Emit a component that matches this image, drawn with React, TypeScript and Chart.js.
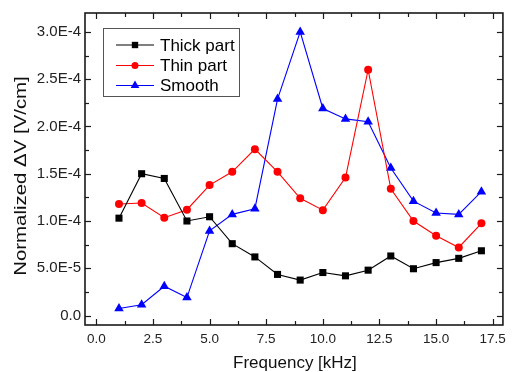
import { useEffect, useRef } from "react";
import { Chart, registerables } from "chart.js";
import { drawPoint } from "chart.js/helpers";

Chart.register(...registerables);

const frequency = [1, 2, 3, 4, 5, 6, 7, 8, 9, 10, 11, 12, 13, 14, 15, 16, 17];
const thickPart = [1.03e-4, 1.5e-4, 1.45e-4, 1.0e-4, 1.045e-4, 7.6e-5, 6.2e-5, 4.35e-5, 3.75e-5, 4.55e-5, 4.2e-5, 4.8e-5, 6.3e-5, 4.95e-5, 5.6e-5, 6.05e-5, 6.85e-5];
const thinPart = [1.18e-4, 1.19e-4, 1.035e-4, 1.12e-4, 1.38e-4, 1.52e-4, 1.76e-4, 1.52e-4, 1.24e-4, 1.115e-4, 1.46e-4, 2.6e-4, 1.34e-4, 1.0e-4, 8.45e-5, 7.2e-5, 9.75e-5];
const smooth = [7.5e-6, 1.15e-5, 3.1e-5, 1.9e-5, 8.95e-5, 1.07e-4, 1.13e-4, 2.29e-4, 3.0e-4, 2.19e-4, 2.08e-4, 2.05e-4, 1.56e-4, 1.21e-4, 1.085e-4, 1.07e-4, 1.31e-4];

const seriesNames = ["Thick part", "Thin part", "Smooth"];
const seriesColors = ["#000000", "#ff0000", "#0000ff"];
const seriesMarkers = ["rect", "circle", "triangle"];
const seriesRadius = [5, 4, 5.5];

const xTicks = [0, 2.5, 5, 7.5, 10, 12.5, 15, 17.5];
const xTickLabels = ["0.0", "2.5", "5.0", "7.5", "10.0", "12.5", "15.0", "17.5"];
const xMinorTicks = [1.25, 3.75, 6.25, 8.75, 11.25, 13.75, 16.25];
const yTicks = [0, 5e-5, 1e-4, 1.5e-4, 2e-4, 2.5e-4, 3e-4];
const yTickLabels = ["0.0", "5.0E-5", "1.0E-4", "1.5E-4", "2.0E-4", "2.5E-4", "3.0E-4"];
const yMinorTicks = [2.5e-5, 7.5e-5, 1.25e-4, 1.75e-4, 2.25e-4, 2.75e-4];

const xTitle = "Frequency [kHz]";
const yTitle = "Normalized \u0394V [V/cm]";

const FONT = "Arial, 'Liberation Sans', sans-serif";

const framePlugin = {
  id: "frame",
  afterDraw(chart: any) {
    const { ctx, chartArea } = chart;
    const { left, right, top, bottom } = chartArea;
    const xs = chart.scales.x;
    const ys = chart.scales.y;
    ctx.save();
    ctx.strokeStyle = "#1a1a1a";
    ctx.lineWidth = 1.2;
    const tick = (x1: number, y1: number, x2: number, y2: number) => {
      ctx.beginPath();
      ctx.moveTo(x1, y1);
      ctx.lineTo(x2, y2);
      ctx.stroke();
    };
    xTicks.forEach((v) => {
      const x = Math.round(xs.getPixelForValue(v)) + 0.5;
      tick(x, bottom, x, bottom - 6);
      tick(x, top, x, top + 6);
    });
    xMinorTicks.forEach((v) => {
      const x = Math.round(xs.getPixelForValue(v)) + 0.5;
      tick(x, bottom, x, bottom - 4);
      tick(x, top, x, top + 4);
    });
    yTicks.forEach((v) => {
      const y = Math.round(ys.getPixelForValue(v)) + 0.5;
      tick(left, y, left + 6, y);
      tick(right, y, right - 6, y);
    });
    yMinorTicks.forEach((v) => {
      const y = Math.round(ys.getPixelForValue(v)) + 0.5;
      tick(left, y, left + 4, y);
      tick(right, y, right - 4, y);
    });
    ctx.lineWidth = 1.6;
    ctx.strokeRect(left, top, right - left, bottom - top);

    // axis titles
    ctx.fillStyle = "#111";
    ctx.font = `17px ${FONT}`;
    ctx.textAlign = "center";
    ctx.textBaseline = "alphabetic";
    ctx.fillText(xTitle, (left + right) / 2 + 1, 368);
    ctx.save();
    ctx.translate(26, 176);
    ctx.rotate(-Math.PI / 2);
    ctx.scale(1.2, 1);
    ctx.fillText(yTitle, 0, 0);
    ctx.restore();

    // legend
    const bx = 103.5, by = 28.5, bw = 136, bh = 68;
    ctx.fillStyle = "#ffffff";
    ctx.fillRect(bx, by, bw, bh);
    ctx.strokeStyle = "#555";
    ctx.lineWidth = 1;
    ctx.strokeRect(bx, by, bw, bh);
    const rows = [45, 65.5, 85.5];
    seriesNames.forEach((name, i) => {
      const y = rows[i];
      ctx.strokeStyle = seriesColors[i];
      ctx.lineWidth = 1;
      ctx.beginPath();
      ctx.moveTo(116, y);
      ctx.lineTo(154, y);
      ctx.stroke();
      ctx.fillStyle = seriesColors[i];
      drawPoint(ctx, { pointStyle: seriesMarkers[i], radius: seriesRadius[i] - 0.5, rotation: 0, borderWidth: 0 } as any, 135, y);
      ctx.fillStyle = "#000";
      ctx.font = `17px ${FONT}`;
      ctx.textAlign = "left";
      ctx.textBaseline = "middle";
      ctx.fillText(name, 160, y + 1);
    });
    ctx.restore();
  },
};

export default function App() {
  const canvasRef = useRef<HTMLCanvasElement | null>(null);

  useEffect(() => {
    const canvas = canvasRef.current;
    if (!canvas) return;
    const series = [thickPart, thinPart, smooth];
    const chart = new Chart(canvas, {
      type: "line",
      data: {
        datasets: series.map((vals, i) => ({
          label: seriesNames[i],
          data: frequency.map((f, j) => ({ x: f, y: vals[j] })),
          borderColor: seriesColors[i],
          backgroundColor: seriesColors[i],
          borderWidth: 1.1,
          pointStyle: seriesMarkers[i] as any,
          pointRadius: seriesRadius[i],
          pointBorderWidth: 0,
          pointBackgroundColor: seriesColors[i],
          pointBorderColor: seriesColors[i],
          tension: 0,
          fill: false,
          clip: false as any,
        })),
      },
      options: {
        animation: false,
        responsive: true,
        maintainAspectRatio: false,
        devicePixelRatio: 1,
        layout: { padding: { left: 0, top: 12, right: 4, bottom: 0 } },
        plugins: { legend: { display: false }, tooltip: { enabled: false } },
        scales: {
          x: {
            type: "linear",
            min: -0.5,
            max: 17.95,
            grid: { display: false, drawTicks: false },
            border: { display: false },
            afterBuildTicks: (scale: any) => {
              scale.ticks = xTicks.map((v) => ({ value: v }));
            },
            afterFit: (scale: any) => {
              scale.height = 47;
            },
            ticks: {
              padding: 6,
              autoSkip: false,
              maxRotation: 0,
              color: "#222",
              font: { family: FONT, size: 13.5 },
              callback: (_v: any, i: number) => xTickLabels[i],
            },
          },
          y: {
            type: "linear",
            min: -1e-5,
            max: 3.2e-4,
            grid: { display: false, drawTicks: false },
            border: { display: false },
            afterBuildTicks: (scale: any) => {
              scale.ticks = yTicks.map((v) => ({ value: v }));
            },
            afterFit: (scale: any) => {
              scale.width = 85;
            },
            ticks: {
              padding: 4,
              autoSkip: false,
              color: "#222",
              font: { family: FONT, size: 15 },
              callback: (_v: any, i: number) => yTickLabels[i],
            },
          },
        },
      },
      plugins: [framePlugin],
    });
    return () => chart.destroy();
  }, []);

  return (
    <div style={{ position: "fixed", left: 0, top: 0, width: 512, height: 372, background: "#fff" }}>
      <canvas ref={canvasRef} />
    </div>
  );
}
